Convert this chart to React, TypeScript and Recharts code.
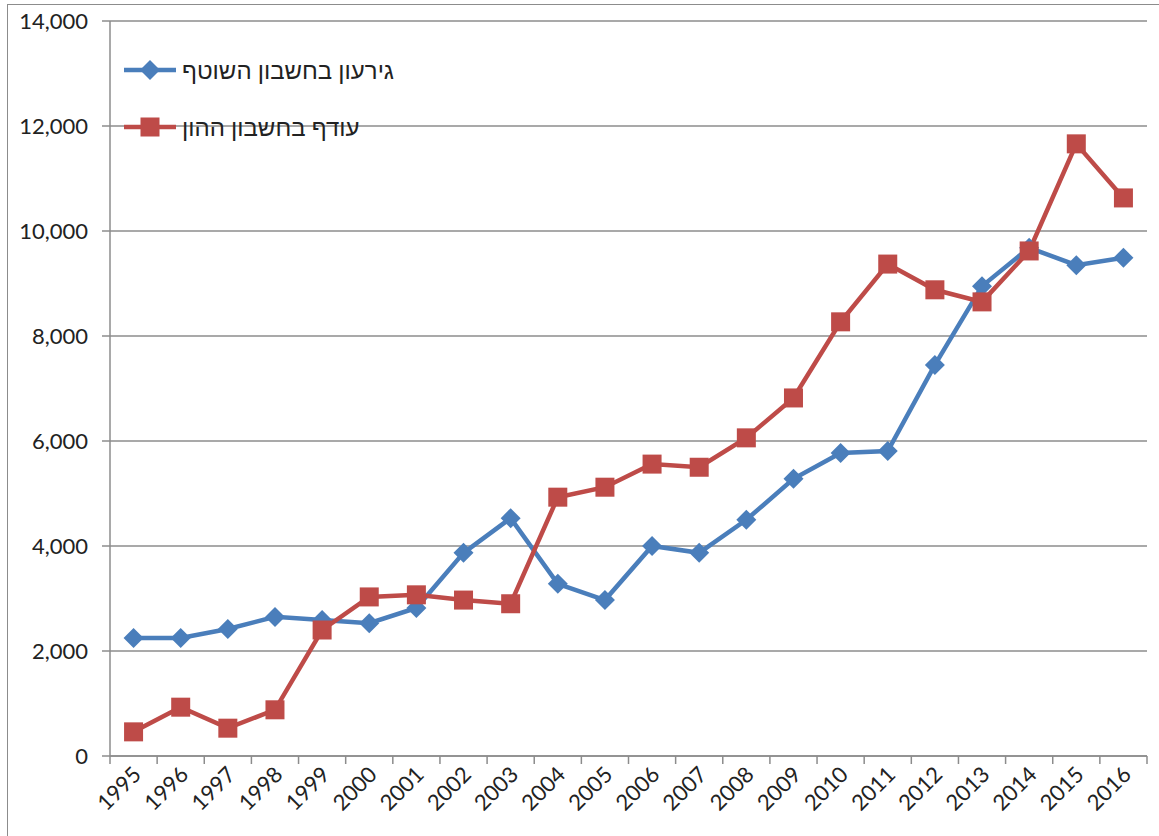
import React from 'react';
import { LineChart, Line, XAxis, YAxis, CartesianGrid } from 'recharts';

const years = [
  '1995', '1996', '1997', '1998', '1999', '2000', '2001', '2002', '2003', '2004', '2005',
  '2006', '2007', '2008', '2009', '2010', '2011', '2012', '2013', '2014', '2015', '2016',
];

// גירעון בחשבון השוטף
const currentDeficit = [
  2250, 2250, 2420, 2650, 2590, 2530, 2820, 3870, 4530, 3280, 2970,
  4000, 3870, 4500, 5280, 5770, 5810, 7450, 8950, 9680, 9350, 9490,
];

// עודף בחשבון ההון
const capitalSurplus = [
  460, 930, 530, 880, 2400, 3030, 3070, 2970, 2900, 4930, 5120,
  5560, 5500, 6060, 6820, 8270, 9370, 8880, 8650, 9620, 11660, 10630,
];

const yTicks = [0, 2000, 4000, 6000, 8000, 10000, 12000, 14000];

const BLUE = '#4A7EBB';
const RED = '#BE4B48';
const GRID = '#8C8C8C';
const FONT = "Lato, 'Liberation Sans', 'DejaVu Sans', sans-serif";

const data = years.map((year, i) => ({
  idx: i,
  year,
  deficit: currentDeficit[i],
  surplus: capitalSurplus[i],
}));

// label ticks on the categories, short tick lines on the boundaries between them
const xTicks: number[] = [];
for (let i = -0.5; i <= years.length - 0.5; i += 0.5) xTicks.push(i);

const XTick = (props: any) => {
  const { x, y, payload } = props;
  const v = payload.value as number;
  if (!Number.isInteger(v)) {
    return <line x1={x} y1={y} x2={x} y2={y + 8} stroke={GRID} strokeWidth={1.5} />;
  }
  return (
    <text
      x={x + 9}
      y={y + 20}
      transform={`rotate(-45, ${x + 9}, ${y + 20})`}
      textAnchor="end"
      fontSize={22}
      fontFamily={FONT}
      fill="#222"
    >
      {years[v]}
    </text>
  );
};

const Diamond = (props: any) => {
  const { cx, cy, index } = props;
  const r = 10;
  return (
    <path
      key={`d-${index}`}
      d={`M${cx},${cy - r}L${cx + r},${cy}L${cx},${cy + r}L${cx - r},${cy}Z`}
      fill={BLUE}
    />
  );
};

const Square = (props: any) => {
  const { cx, cy, index } = props;
  return <rect key={`s-${index}`} x={cx - 9.5} y={cy - 9.5} width={19} height={19} fill={RED} />;
};

const legendItems = [
  { name: 'גירעון בחשבון השוטף', color: BLUE, marker: 'diamond' },
  { name: 'עודף בחשבון ההון', color: RED, marker: 'square' },
];

export default function App() {
  return (
    <div style={{ position: 'absolute', left: 0, top: 0, width: 1159, height: 836, overflow: 'hidden', background: '#fff' }}>
      <div
        style={{
          position: 'absolute',
          left: 7,
          top: 4,
          width: 1180,
          height: 860,
          border: '1.5px solid #8C8C8C',
        }}
      />
      <div style={{ position: 'absolute', left: 0, top: 0 }}>
        <LineChart
          width={1159}
          height={836}
          data={data}
          margin={{ top: 21, right: 12, left: 50, bottom: 10 }}
        >
          <CartesianGrid vertical={false} stroke={GRID} strokeWidth={1.5} />
          <XAxis
            type="number"
            dataKey="idx"
            domain={[-0.5, years.length - 0.5]}
            ticks={xTicks}
            interval={0}
            tickLine={false}
            tickSize={0}
            tickMargin={0}
            tick={(p: any) => <XTick {...p} />}
            axisLine={{ stroke: GRID, strokeWidth: 1.5 }}
            height={70}
          />
          <YAxis
            domain={[0, 14000]}
            ticks={yTicks}
            interval={0}
            width={60}
            tickSize={8}
            tickMargin={14}
            tickFormatter={(v: number) => v.toLocaleString('en-US')}
            tick={{ fontSize: 22, fontFamily: FONT, fill: '#222' }}
            tickLine={{ stroke: GRID, strokeWidth: 1.5 }}
            axisLine={{ stroke: GRID, strokeWidth: 1.5 }}
          />
          <Line
            dataKey="deficit"
            stroke={BLUE}
            strokeWidth={4.5}
            dot={(p: any) => <Diamond {...p} />}
            activeDot={false}
            isAnimationActive={false}
          />
          <Line
            dataKey="surplus"
            stroke={RED}
            strokeWidth={4.5}
            dot={(p: any) => <Square {...p} />}
            activeDot={false}
            isAnimationActive={false}
          />
        </LineChart>
      </div>
      {legendItems.map((item, i) => (
        <div
          key={item.name}
          style={{
            position: 'absolute',
            left: 122,
            top: 70 + i * 57 - 15,
            height: 30,
            display: 'flex',
            alignItems: 'center',
          }}
        >
          <svg width={56} height={30} style={{ display: 'block' }}>
            <line x1={2} y1={15} x2={54} y2={15} stroke={item.color} strokeWidth={4.5} />
            {item.marker === 'diamond' ? (
              <path d="M28,5L38,15L28,25L18,15Z" fill={item.color} />
            ) : (
              <rect x={18.5} y={5.5} width={19} height={19} fill={item.color} />
            )}
          </svg>
          <span
            dir="rtl"
            style={{ fontFamily: FONT, fontSize: 24, color: '#222', marginLeft: 4, whiteSpace: 'nowrap' }}
          >
            {item.name}
          </span>
        </div>
      ))}
    </div>
  );
}
